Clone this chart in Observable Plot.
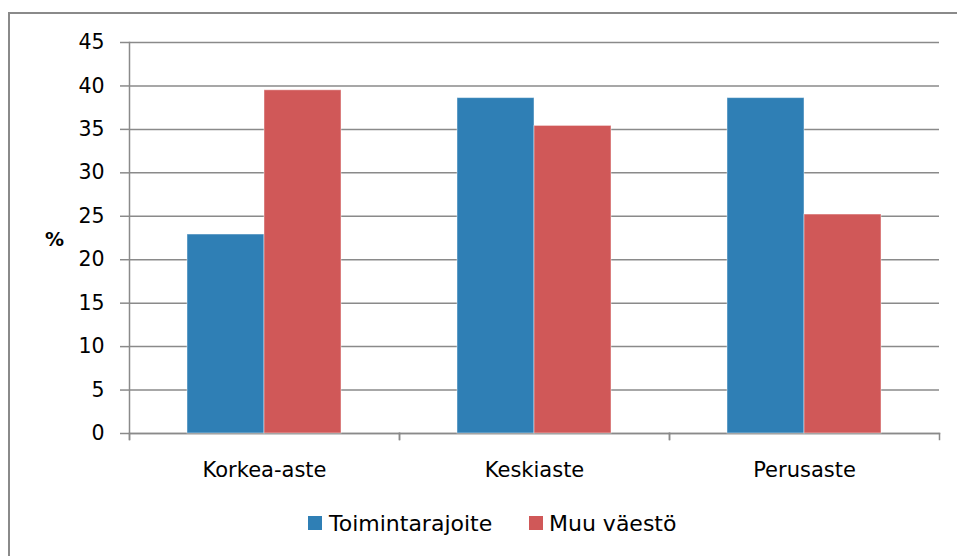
<!DOCTYPE html>
<html><head><meta charset="utf-8">
<script src="https://cdn.jsdelivr.net/npm/d3@7"></script>
<script src="https://cdn.jsdelivr.net/npm/@observablehq/plot@0.6"></script>
<style>
body{margin:0;background:#fff;font-family:"DejaVu Sans",sans-serif;color:#000;}
#wrap{position:relative;width:957px;height:556px;overflow:hidden;background:#fff;}
#border{position:absolute;left:8px;top:12px;width:1000px;height:700px;border-left:2px solid #8a8a8a;border-top:2px solid #8a8a8a;}
#chart{position:absolute;left:0;top:0;}
.abs{position:absolute;line-height:1;white-space:nowrap;}
.sw{position:absolute;width:14px;height:14px;}
</style></head>
<body>
<div id="wrap">
  <div id="border"></div>
  <div id="chart"></div>
  <div class="abs" id="ylab" style="left:45px;top:230px;font-size:19px;font-weight:bold;">%</div>
  <div id="legend"></div>
</div>
<script>
const categories = ["Korkea-aste", "Keskiaste", "Perusaste"];
const series = ["Toimintarajoite", "Muu väestö"];
const toimintarajoite = [22.9, 38.6, 38.6];
const muuVaesto = [39.5, 35.4, 25.2];
const yTicks = [0, 5, 10, 15, 20, 25, 30, 35, 40, 45];
const colors = ["#2f7fb5", "#d05858"];

const rows = categories.flatMap((c, i) => [
  {category: c, series: series[0], value: toimintarajoite[i]},
  {category: c, series: series[1], value: muuVaesto[i]}
]);

const gray = "#8a8a8a";
const plot = Plot.plot({
  width: 957,
  height: 495,
  marginLeft: 129,
  marginRight: 18,
  marginTop: 42,
  marginBottom: 62,
  style: {fontFamily: "DejaVu Sans", fontSize: "20px", color: "#000", background: "transparent", overflow: "visible"},
  fx: {domain: categories, padding: 0, label: null},
  x: {domain: series, paddingInner: 0, paddingOuter: 0.753, axis: null},
  y: {domain: [0, 45], label: null},
  color: {domain: series, range: colors},
  marks: [
    Plot.gridY(yTicks, {stroke: gray, strokeOpacity: 1, strokeWidth: 1.5}),
    Plot.axisY(yTicks, {tickSize: 9, tickPadding: 16, stroke: gray, strokeWidth: 1.5, label: null, fontSize: 20.5, tickFormat: d => String(d)}),
    Plot.axisFx({anchor: "bottom", tickSize: 0, tickPadding: 29, label: null, fontSize: 21}),
    Plot.frame({anchor: "bottom", stroke: gray, strokeWidth: 1.5}),
    Plot.frame({anchor: "left", insetTop: 391, insetBottom: -6, stroke: gray, strokeWidth: 1.5}),
    Plot.frame({anchor: "right", insetTop: 391, insetBottom: -6, stroke: gray, strokeWidth: 1.5}),
    Plot.frame({anchor: "left", fx: [categories[0]], insetBottom: -6, stroke: gray, strokeWidth: 1.5}),
    Plot.barY(rows, {fx: "category", x: "series", y: "value", fill: "series", stroke: "#fff", strokeOpacity: 0.45, strokeWidth: 1})
  ]
});
document.getElementById("chart").appendChild(plot);

// legend
const legend = document.getElementById("legend");
const legendPos = [{sw: 308, tx: 329}, {sw: 529, tx: 549}];
series.forEach((s, i) => {
  const sw = document.createElement("div");
  sw.className = "sw";
  sw.style.left = legendPos[i].sw + "px";
  sw.style.top = "516px";
  sw.style.background = colors[i];
  legend.appendChild(sw);
  const t = document.createElement("div");
  t.className = "abs";
  t.style.left = legendPos[i].tx + "px";
  t.style.top = "512.5px";
  t.style.fontSize = "22px";
  t.textContent = s;
  legend.appendChild(t);
});
</script>
</body></html>
